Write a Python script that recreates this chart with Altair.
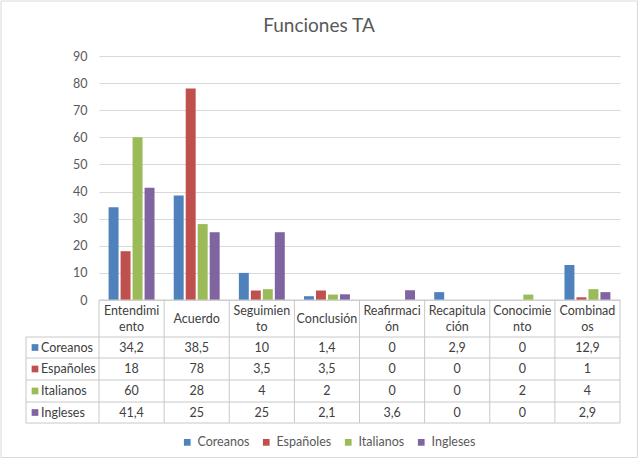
import altair as alt
import pandas as pd

categories = ["Entendimiento", "Acuerdo", "Seguimiento", "Conclusión",
              "Reafirmación", "Recapitulación", "Conocimiento", "Combinados"]
header_labels = ["Entendimi\nento", "Acuerdo", "Seguimien\nto", "Conclusión",
                 "Reafirmaci\nón", "Recapitula\nción", "Conocimie\nnto", "Combinad\nos"]
series = ["Coreanos", "Españoles", "Italianos", "Ingleses"]
coreanos = [34.2, 38.5, 10, 1.4, 0, 2.9, 0, 12.9]
espanoles = [18, 78, 3.5, 3.5, 0, 0, 0, 1]
italianos = [60, 28, 4, 2, 0, 0, 2, 4]
ingleses = [41.4, 25, 25, 2.1, 3.6, 0, 0, 2.9]
y_ticks = [0, 10, 20, 30, 40, 50, 60, 70, 80, 90]
colors = ["#4F81BD", "#C0504D", "#9BBB59", "#8064A2"]

rows = []
for s, vals in zip(series, [coreanos, espanoles, italianos, ingleses]):
    for c, v in zip(categories, vals):
        rows.append({"category": c, "series": s, "value": v})
df = pd.DataFrame(rows)
df_head = pd.DataFrame({"category": categories, "header": header_labels})
df_series = pd.DataFrame({"series": series})
one = pd.DataFrame({"a": [0]})

FONT = "Lato"
W, H = 521, 244
TXT = "#404040"
GRID = "#d9d9d9"
LINE = "#c8c8c8"
ROW_Y = [291.5, 313, 335, 356.5]

xcat = alt.X("category:N", sort=categories,
             scale=alt.Scale(paddingInner=0, paddingOuter=0), axis=None)
color = alt.Color("series:N", sort=series,
                  scale=alt.Scale(domain=series, range=colors),
                  legend=alt.Legend(title=None, orient="none", direction="horizontal",
                                    legendX=82, legendY=380, symbolType="square",
                                    symbolSize=45, symbolStrokeWidth=0,
                                    labelFont=FONT, labelFontSize=12.5,
                                    labelColor="#595959", columnPadding=10,
                                    labelOffset=4))

border = alt.Chart(one).mark_rect(fillOpacity=0, stroke=GRID, strokeWidth=1).encode(
    x=alt.value(-98), x2=alt.value(538.5), y=alt.value(-55), y2=alt.value(401.5))

bars = alt.Chart(df).mark_bar().encode(
    x=xcat,
    xOffset=alt.XOffset("series:N", sort=series,
                        scale=alt.Scale(paddingInner=0.17, paddingOuter=0.8)),
    y=alt.Y("value:Q", scale=alt.Scale(domain=[0, 90]),
            axis=alt.Axis(values=y_ticks, title=None, domain=False, ticks=False,
                          labelColor="#595959", labelFont=FONT, labelFontSize=12.5,
                          labelPadding=12, gridColor=GRID)),
    color=color,
)

title = alt.Chart(one).mark_text(text="Funciones TA", font=FONT, fontSize=19,
                                 color="#595959").encode(
    x=alt.value(220), y=alt.value(-30))

layers = [border, bars, title]

# table lines
layers.append(alt.Chart(one).mark_rule(color=LINE).encode(
    x=alt.value(0), x2=alt.value(W), y=alt.value(H)))
for yy in [281, 302, 324, 346, 367]:
    layers.append(alt.Chart(one).mark_rule(color=LINE).encode(
        x=alt.value(-73), x2=alt.value(W), y=alt.value(yy)))
layers.append(alt.Chart(df_head).mark_rule(color=LINE).encode(
    x=alt.X("category:N", sort=categories, bandPosition=0),
    y=alt.value(H), y2=alt.value(367)))
layers.append(alt.Chart(one).mark_rule(color=LINE).encode(
    x=alt.value(W), y=alt.value(H), y2=alt.value(367)))
layers.append(alt.Chart(one).mark_rule(color=LINE).encode(
    x=alt.value(-73), y=alt.value(281), y2=alt.value(367)))

# header cells: two-line labels shifted up half a line
for cond, yy in [("indexof(datum.header, '\\n') >= 0", 254.5),
                 ("indexof(datum.header, '\\n') < 0", 262.5)]:
    layers.append(alt.Chart(df_head).transform_filter(cond).mark_text(
        font=FONT, fontSize=12.5, color=TXT, lineBreak="\n", lineHeight=16,
        baseline="middle").encode(
        x=alt.X("category:N", sort=categories), y=alt.value(yy), text="header:N"))

for s, ry in zip(series, ROW_Y):
    layers.append(alt.Chart(df).transform_filter(
        alt.datum.series == s
    ).transform_calculate(
        label="replace(toString(datum.value), '.', ',')"
    ).mark_text(font=FONT, fontSize=12.5, color=TXT, baseline="middle").encode(
        x=alt.X("category:N", sort=categories), y=alt.value(ry), text="label:N"))
    layers.append(alt.Chart(df_series).transform_filter(
        alt.datum.series == s
    ).mark_square(size=45, opacity=1).encode(
        x=alt.value(-64), y=alt.value(ry),
        color=alt.Color("series:N", sort=series,
                        scale=alt.Scale(domain=series, range=colors), legend=None)))
    layers.append(alt.Chart(df_series).transform_filter(
        alt.datum.series == s
    ).mark_text(font=FONT, fontSize=12.5, color=TXT,
                align="left", baseline="middle").encode(
        x=alt.value(-58), y=alt.value(ry), text="series:N"))

chart = alt.layer(*layers).properties(
    width=W, height=H,
    autosize=alt.AutoSizeParams(type="none"),
    padding={"left": 99, "top": 56, "right": 19, "bottom": 159},
).configure_view(strokeWidth=0)

chart.save("out.html", embed_options={"renderer": "svg", "actions": False})
